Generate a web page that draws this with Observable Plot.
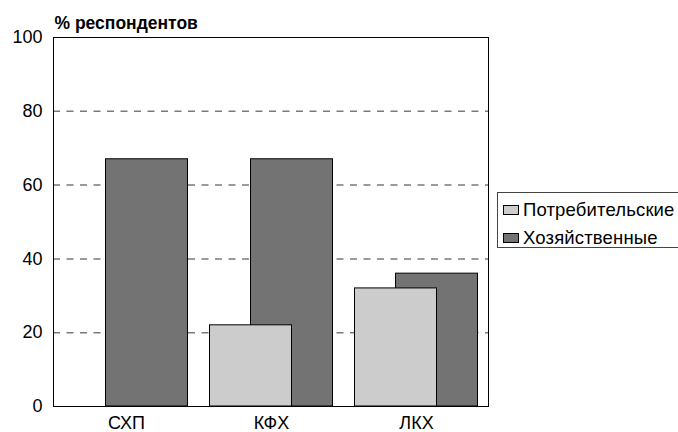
<!DOCTYPE html>
<html>
<head>
<meta charset="utf-8">
<script src="https://cdn.jsdelivr.net/npm/d3@7"></script>
<script src="https://cdn.jsdelivr.net/npm/@observablehq/plot@0.6"></script>
<style>
  html, body { margin: 0; padding: 0; background: #fff; }
  #wrap { position: relative; width: 678px; height: 432px; overflow: hidden; font-family: "Liberation Sans", Arial, sans-serif; }
  #legend { position: absolute; left: 497px; top: 192px; width: 190px; height: 56px; border: 1px solid #444; box-sizing: border-box; background: #fff; }
  .item { position: absolute; left: 5px; display: flex; align-items: center; font-size: 18.5px; letter-spacing: 0.15px; color: #000; white-space: nowrap; }
  .sw { width: 16px; height: 10px; border: 1px solid #000; margin-right: 4px; box-sizing: border-box; }
</style>
</head>
<body>
<div id="wrap"></div>
<script>
const categories = ["СХП", "КФХ", "ЛКХ"];
const seriesNames = ["Потребительские", "Хозяйственные"];
const consumer = [0, 22, 32];
const household = [67, 67, 36];
const yTicks = [0, 20, 40, 60, 80, 100];
const yTitle = "% респондентов";
const colors = ["#cccccc", "#737373"];

const rowsDark = categories.map((c, i) => ({cat: c, series: seriesNames[1], value: household[i]}));
const rowsLight = categories.map((c, i) => ({cat: c, series: seriesNames[0], value: consumer[i]}));

const chart = Plot.plot({
  width: 678,
  height: 432,
  marginLeft: 53,
  marginRight: 190,
  marginTop: 37,
  marginBottom: 26,
  style: {fontFamily: "'Liberation Sans', Arial, sans-serif", fontSize: "18px", color: "#000", background: "#fff"},
  x: {domain: categories, paddingInner: 0.4345, paddingOuter: 0.21725, axis: null, label: null},
  y: {domain: [0, 100], axis: null, label: null},
  marks: [
    Plot.gridY([20, 40, 60, 80], {stroke: "#7a7a7a", strokeOpacity: 1, strokeWidth: 1.5, strokeDasharray: "7,6.5"}),
    Plot.barY(rowsDark, {x: "cat", y: "value", dx: 20.5, fill: colors[1], stroke: "#000", strokeWidth: 1}),
    Plot.barY(rowsLight, {x: "cat", y: "value", dx: -20.5, fill: colors[0], stroke: "#000", strokeWidth: 1}),
    Plot.frame({stroke: "#000", strokeWidth: 1}),
    Plot.axisY(yTicks, {tickSize: 0, tickPadding: 11, tickFormat: d => String(d), fontSize: 18, label: null}),
    Plot.axisX(categories, {tickSize: 0, tickPadding: 10, fontSize: 18, label: null}),
    Plot.text([yTitle], {frameAnchor: "top-left", textAnchor: "start", lineAnchor: "bottom", dx: 1, dy: -9, fontSize: 17.5, fontWeight: "bold"})
  ]
});

const wrap = document.getElementById("wrap");
wrap.appendChild(chart);

const legend = document.createElement("div");
legend.id = "legend";
seriesNames.forEach((name, i) => {
  const item = document.createElement("div");
  item.className = "item";
  item.style.top = (i === 0 ? 6 : 34) + "px";
  const sw = document.createElement("div");
  sw.className = "sw";
  sw.style.background = colors[i];
  const t = document.createElement("span");
  t.textContent = name;
  item.appendChild(sw);
  item.appendChild(t);
  legend.appendChild(item);
});
wrap.appendChild(legend);
</script>
</body>
</html>
